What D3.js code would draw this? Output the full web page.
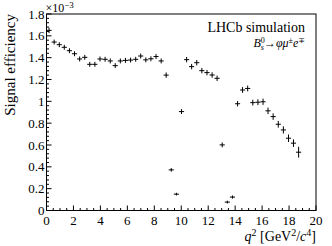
<!DOCTYPE html>
<html>
<head>
<meta charset="utf-8">
<script src="https://cdn.jsdelivr.net/npm/d3@7"></script>
<style>
  body { margin: 0; background: #fff; }
  svg { font-family: "Liberation Serif", "DejaVu Serif", serif; }
</style>
</head>
<body>
<svg width="332" height="246"></svg>
<script>
// bin centres in q^2 [GeV^2/c^4]
var q2 = [0.19, 0.57, 0.95, 1.32, 1.70, 2.08, 2.46, 2.84, 3.21, 3.59,
    3.97, 4.35, 4.73, 5.10, 5.48, 5.86, 6.24, 6.62, 6.99, 7.37,
    7.75, 8.13, 8.51, 8.88, 9.26, 9.64, 10.02, 10.40, 10.77, 11.15,
    11.53, 11.91, 12.29, 12.66, 13.04, 13.42, 13.80, 14.18, 14.55, 14.93,
    15.31, 15.69, 16.07, 16.44, 16.82, 17.20, 17.58, 17.96, 18.33, 18.71];
// half bin width
var q2HalfWidth = 0.19;

// signal efficiency, units of 1e-3
var efficiency = [1.650, 1.543, 1.519, 1.495, 1.464, 1.436, 1.388, 1.403, 1.339, 1.339,
    1.388, 1.385, 1.370, 1.327, 1.370, 1.375, 1.378, 1.385, 1.415, 1.380,
    1.390, 1.410, 1.370, 1.240, 0.372, 0.150, 0.906, 1.382, 1.318, 1.354,
    1.281, 1.263, 1.241, 1.211, 0.601, 0.077, 0.123, 0.978, 1.104, 1.118,
    0.988, 0.992, 0.996, 0.913, 0.860, 0.790, 0.738, 0.662, 0.617, 0.534];
var effError = [0.020, 0.018, 0.018, 0.018, 0.018, 0.018, 0.018, 0.018, 0.018, 0.018,
    0.018, 0.018, 0.018, 0.018, 0.018, 0.018, 0.018, 0.018, 0.018, 0.018,
    0.018, 0.018, 0.018, 0.020, 0.012, 0.008, 0.018, 0.020, 0.020, 0.020,
    0.020, 0.020, 0.020, 0.020, 0.018, 0.008, 0.010, 0.020, 0.022, 0.022,
    0.022, 0.022, 0.024, 0.025, 0.025, 0.026, 0.028, 0.030, 0.030, 0.045];

var xTicks = [0, 2, 4, 6, 8, 10, 12, 14, 16, 18, 20];
var yTicks = [0, 0.2, 0.4, 0.6, 0.8, 1, 1.2, 1.4, 1.6, 1.8];

var svg = d3.select("svg");
var frameLeft = 46.5, frameRight = 316, frameTop = 14, frameBottom = 210.5;

var x = d3.scaleLinear().domain([0, 20]).range([frameLeft, frameRight]);
var y = d3.scaleLinear().domain([0, 1.8]).range([frameBottom, frameTop]);

// frame
svg.append("rect")
    .attr("x", frameLeft).attr("y", frameTop)
    .attr("width", frameRight - frameLeft).attr("height", frameBottom - frameTop)
    .attr("fill", "none").attr("stroke", "#000").attr("stroke-width", 1);

// x axis ticks (inward)
var xMinor = d3.range(0, 41).map(function (i) { return i * 0.5; });
svg.append("g").selectAll("line")
    .data(xMinor)
    .enter()
    .append("line")
    .attr("x1", function (d) { return x(d); })
    .attr("x2", function (d) { return x(d); })
    .attr("y1", frameBottom)
    .attr("y2", function (d, i) { return i % 4 == 0 ? frameBottom - 5 : frameBottom - 2.5; })
    .attr("stroke", "#000");

svg.append("g").selectAll("text")
    .data(xTicks)
    .enter()
    .append("text")
    .attr("x", function (d) { return x(d); })
    .attr("y", 224.5)
    .attr("text-anchor", "middle")
    .attr("font-size", 13)
    .text(function (d) { return d; });

// y axis ticks (inward)
var yMinor = d3.range(0, 46).map(function (i) { return i * 0.04; });
svg.append("g").selectAll("line")
    .data(yMinor)
    .enter()
    .append("line")
    .attr("x1", frameLeft)
    .attr("x2", function (d, i) { return i % 5 == 0 ? frameLeft + 5 : frameLeft + 2.5; })
    .attr("y1", function (d) { return y(d); })
    .attr("y2", function (d) { return y(d); })
    .attr("stroke", "#000");

svg.append("g").selectAll("text")
    .data(yTicks)
    .enter()
    .append("text")
    .attr("x", frameLeft - 2)
    .attr("y", function (d) { return y(d) + 4.5; })
    .attr("text-anchor", "end")
    .attr("font-size", 13)
    .text(function (d) { return d; });

// exponent
var expo = svg.append("text")
    .attr("x", frameLeft - 1)
    .attr("y", 12)
    .attr("font-size", 12);
expo.append("tspan").text("\u00d710");
expo.append("tspan").attr("dy", -4).attr("font-size", 9).text("\u22123");

// axis titles
svg.append("text")
    .attr("transform", "translate(15," + frameTop + ") rotate(-90)")
    .attr("text-anchor", "end")
    .attr("font-size", 15)
    .text("Signal efficiency");

var xt = svg.append("text")
    .attr("x", frameRight)
    .attr("y", 241)
    .attr("text-anchor", "end")
    .attr("font-size", 14);
xt.append("tspan").attr("font-style", "italic").text("q");
xt.append("tspan").attr("dy", -5).attr("font-size", 10).text("2");
xt.append("tspan").attr("dy", 5).text(" [GeV");
xt.append("tspan").attr("dy", -5).attr("font-size", 10).text("2");
xt.append("tspan").attr("dy", 5).text("/");
xt.append("tspan").attr("font-style", "italic").text("c");
xt.append("tspan").attr("dy", -5).attr("font-size", 10).text("4");
xt.append("tspan").attr("dy", 5).text("]");

// labels
svg.append("text")
    .attr("x", 305)
    .attr("y", 32)
    .attr("text-anchor", "end")
    .attr("font-size", 14)
    .text("LHCb simulation");

var dec = svg.append("text")
    .attr("x", 305)
    .attr("y", 47)
    .attr("text-anchor", "end")
    .attr("font-size", 12)
    .attr("font-style", "italic");
dec.append("tspan").text("B");
dec.append("tspan").attr("dy", -4).attr("font-size", 8).attr("font-style", "normal").text("0");
dec.append("tspan").attr("dy", 7).attr("dx", -4).attr("font-size", 8).text("s");
dec.append("tspan").attr("dy", -3).attr("font-style", "normal").text("\u2192");
dec.append("tspan").text("\u03c6\u03bc");
dec.append("tspan").attr("dy", -4).attr("font-size", 8).attr("font-style", "normal").text("\u00b1");
dec.append("tspan").attr("dy", 4).text("e");
dec.append("tspan").attr("dy", -4).attr("font-size", 8).attr("font-style", "normal").text("\u2213");

// data points with error bars
var points = q2.map(function (d, i) {
    return { q2: d, eff: efficiency[i], err: effError[i] };
});

var g = svg.append("g").attr("stroke", "#000").attr("stroke-width", 1);

g.selectAll("line.xerr")
    .data(points)
    .enter()
    .append("line")
    .attr("class", "xerr")
    .attr("x1", function (d) { return x(d.q2 - q2HalfWidth); })
    .attr("x2", function (d) { return x(d.q2 + q2HalfWidth); })
    .attr("y1", function (d) { return y(d.eff); })
    .attr("y2", function (d) { return y(d.eff); });

g.selectAll("line.yerr")
    .data(points)
    .enter()
    .append("line")
    .attr("class", "yerr")
    .attr("x1", function (d) { return x(d.q2); })
    .attr("x2", function (d) { return x(d.q2); })
    .attr("y1", function (d) { return y(d.eff - d.err) + 0.5; })
    .attr("y2", function (d) { return y(d.eff + d.err) - 0.5; });
</script>
</body>
</html>
